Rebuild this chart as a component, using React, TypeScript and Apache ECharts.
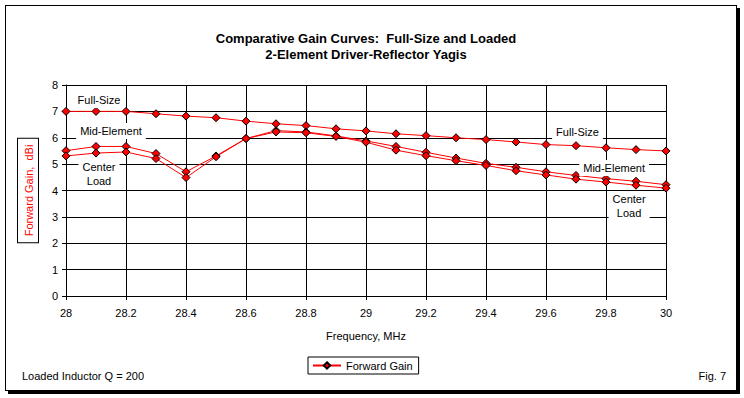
import React, { useEffect, useRef } from "react";
import * as echarts from "echarts";

const freqs = [28, 28.1, 28.2, 28.3, 28.4, 28.5, 28.6, 28.7, 28.8, 28.9, 29, 29.1, 29.2, 29.3, 29.4, 29.5, 29.6, 29.7, 29.8, 29.9, 30];
const fullSize = [7.0, 7.0, 7.0, 6.91, 6.82, 6.76, 6.63, 6.53, 6.46, 6.34, 6.26, 6.15, 6.08, 6.0, 5.93, 5.84, 5.74, 5.7, 5.62, 5.55, 5.5];
const midElement = [5.51, 5.67, 5.67, 5.4, 4.71, 5.31, 5.97, 6.27, 6.22, 6.07, 5.88, 5.67, 5.45, 5.23, 5.03, 4.88, 4.71, 4.57, 4.45, 4.35, 4.22];
const centerLoad = [5.31, 5.42, 5.46, 5.21, 4.49, 5.28, 5.97, 6.22, 6.19, 6.05, 5.83, 5.53, 5.32, 5.13, 4.95, 4.75, 4.59, 4.43, 4.32, 4.2, 4.09];

const seriesName = "Forward Gain";
const titleLines = ["Comparative Gain Curves:  Full-Size and Loaded", "2-Element Driver-Reflector Yagis"];
const xAxisName = "Frequency, MHz";
const yAxisName = "Forward Gain,  dBi";
const noteText = "Loaded Inductor Q = 200";
const figText = "Fig. 7";

const annotationTexts = ["Full-Size", "Mid-Element", "Center\nLoad", "Full-Size", "Mid-Element", "Center\nLoad"];
const annotationX = [28.11, 28.15, 28.11, 29.705, 29.827, 29.877];
const annotationY = [7.43, 6.26, 4.63, 6.22, 4.85, 3.4];

const FONT = "Arial, 'Liberation Sans', sans-serif";

export default function App() {
  const ref = useRef<HTMLDivElement>(null);
  useEffect(() => {
    if (!ref.current) return;
    const chart = echarts.init(ref.current, undefined, { renderer: "svg" });
    const mk = (vals: number[]) => freqs.map((f, i) => [f, vals[i]]);
    const lineSeries = (vals: number[], extra: any = {}) => ({
      name: seriesName,
      type: "line",
      data: mk(vals),
      symbol: "diamond",
      symbolSize: 8,
      showAllSymbol: true,
      lineStyle: { color: "#ff0000", width: 1 },
      itemStyle: { color: "#ff0000", borderColor: "#000", borderWidth: 1 },
      emphasis: { disabled: true },
      ...extra,
    });
    chart.setOption({
      animation: false,
      textStyle: { fontFamily: FONT },
      title: {
        text: titleLines.join("\n"),
        left: 361,
        top: 25,
        textAlign: "center",
        textStyle: { fontSize: 13, fontWeight: "bold", color: "#000", lineHeight: 16, fontFamily: FONT },
      },
      grid: { left: 66, right: 78, top: 85, bottom: 102, containLabel: false },
      legend: {
        left: 308,
        top: 357,
        data: [{ name: seriesName }],
        borderColor: "#000",
        borderWidth: 1,
        padding: [3, 6, 3, 4],
        itemWidth: 28,
        itemHeight: 8,
        textStyle: { fontSize: 11, color: "#000", fontFamily: FONT },
        selectedMode: false,
      },
      xAxis: {
        type: "value",
        min: 28,
        max: 30,
        interval: 0.2,
        name: xAxisName,
        nameLocation: "middle",
        nameGap: 34,
        nameTextStyle: { fontSize: 11, color: "#000", fontFamily: FONT },
        axisLine: { lineStyle: { color: "#000", width: 1 } },
        axisTick: { show: true, length: 4, lineStyle: { color: "#000" } },
        axisLabel: { fontSize: 11, color: "#000", margin: 11, fontFamily: FONT },
        splitLine: { show: true, lineStyle: { color: "#000", width: 1 } },
      },
      yAxis: {
        type: "value",
        min: 0,
        max: 8,
        interval: 1,
        name: yAxisName,
        nameLocation: "middle",
        nameRotate: 90,
        nameGap: 28,
        nameTextStyle: {
          fontSize: 11,
          color: "#ff0000",
          fontFamily: FONT,
          borderColor: "#000",
          borderWidth: 1,
          padding: [5, 6, 4, 6],
          backgroundColor: "#fff",
        },
        axisLine: { show: true, lineStyle: { color: "#000", width: 1 } },
        axisTick: { show: true, length: 4, lineStyle: { color: "#000" } },
        axisLabel: { fontSize: 11, color: "#000", margin: 8, fontFamily: FONT },
        splitLine: { show: true, lineStyle: { color: "#000", width: 1 } },
      },
      graphic: [
        { type: "text", left: 22, top: 370, style: { text: noteText, fontSize: 11, fill: "#000", fontFamily: FONT } },
        { type: "text", right: 18, top: 370, style: { text: figText, fontSize: 11, fill: "#000", fontFamily: FONT } },
      ],
      series: [
        lineSeries(fullSize, {
          markPoint: {
            symbol: "rect",
            symbolSize: 1,
            itemStyle: { color: "rgba(0,0,0,0)" },
            label: {
              show: true,
              position: "inside",
              formatter: "{b}",
              color: "#000",
              fontSize: 11,
              lineHeight: 14,
              fontFamily: FONT,
              backgroundColor: "#fff",
              padding: [1, 4],
              align: "center",
            },
            data: annotationTexts.map((t, i) => ({ name: t, coord: [annotationX[i], annotationY[i]] })),
          },
        }),
        lineSeries(midElement),
        lineSeries(centerLoad),
      ],
    });
    return () => chart.dispose();
  }, []);
  return (
    <div style={{ position: "fixed", left: 0, top: 0, width: 744, height: 398, background: "#fff" }}>
      <div
        style={{
          position: "absolute",
          left: 5,
          top: 5,
          width: 732,
          height: 386,
          boxSizing: "border-box",
          border: "1px solid #000",
          boxShadow: "3px 3px 0 #000",
          background: "#fff",
        }}
      />
      <div ref={ref} style={{ position: "absolute", left: 0, top: 0, width: 744, height: 398 }} />
    </div>
  );
}
